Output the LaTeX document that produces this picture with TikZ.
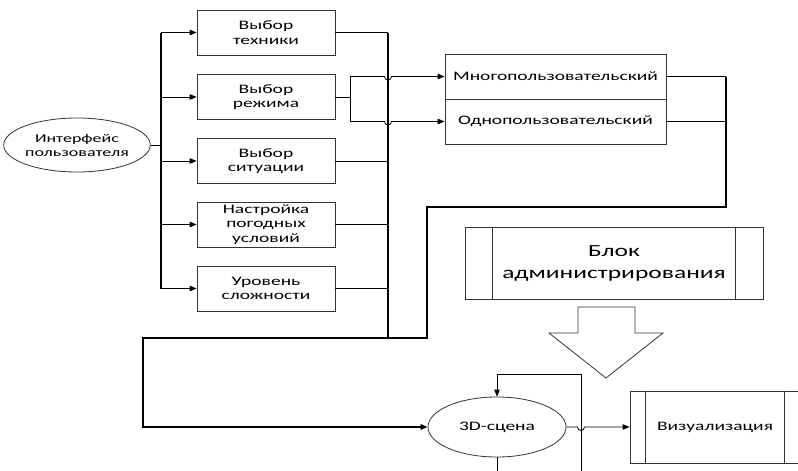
\documentclass[tikz,border=0pt]{standalone}
\usepackage{fontspec}
\setmainfont[FakeStretch=1.5]{Carlito}
\usetikzlibrary{arrows.meta,shapes.geometric,calc}
\begin{document}
\begin{tikzpicture}[x=1pt,y=-1pt,
  line width=0.8pt,
  arr/.style={-{Triangle[length=7pt,width=5.5pt]}},
  box/.style={draw=black!80,rectangle,minimum width=138pt,minimum height=45pt,inner sep=0pt,align=center,font=\fontsize{13}{14.5}\selectfont},
  oval/.style={draw=black!80,ellipse,inner sep=0pt,align=center},
  modebox/.style={draw=black!80,rectangle,minimum width=221pt,minimum height=45pt,inner sep=0pt,align=center,font=\fontsize{13}{14.5}\selectfont},
  proc/.style={draw=black!80,rectangle,inner sep=0pt,align=center},
  bus/.style={line width=1.5pt},
  thick path/.style={line width=2pt}
]
\useasboundingbox (0,0) rectangle (798,471);

% nodes
\node[oval,minimum width=139pt,minimum height=54pt,font=\fontsize{12}{14}\selectfont] (ui) at (77,145) {Интерфейс\\пользователя};
\node[box] (b1) at (266,32.5) {Выбор\\техники};
\node[box] (b2) at (266,97) {Выбор\\режима};
\node[box] (b3) at (266,161) {Выбор\\ситуации};
\node[box] (b4) at (266,224.5) {Настройка\\погодных\\условий};
\node[box] (b5) at (266,288.5) {Уровень\\сложности};

\node[modebox] (m1) at (555.5,76.5) {Многопользовательский};
\node[modebox] (m2) at (555.5,121.5) {Однопользовательский};

\node[proc,minimum width=298pt,minimum height=72pt,font=\fontsize{17}{22}\selectfont] (admin) at (614,263) {Блок\\администрирования};
\draw[black!80] ($(admin.north west)+(28,0)$) -- ($(admin.south west)+(28,0)$);
\draw[black!80] ($(admin.north east)+(-28,0)$) -- ($(admin.south east)+(-28,0)$);

% big block arrow
\draw[black!80] (578,307) -- (635,307) -- (635,333) -- (663,333) -- (606,378) -- (549,333) -- (578,333) -- cycle;

\node[oval,minimum width=138pt,minimum height=60pt,font=\fontsize{13}{14.5}\selectfont] (scene) at (497,427) {3D-сцена};

\node[proc,minimum width=170pt,minimum height=72pt] (vis) at (715,427) {};
\node[font=\fontsize{13}{14.5}\selectfont] (vistext) at (715,427) {Визуализация};
\draw[black!80] ($(vis.north west)+(16,0)$) -- ($(vis.south west)+(16,0)$);
\draw[black!80] ($(vis.north east)+(-16,0)$) -- ($(vis.south east)+(-16,0)$);

% coordinates
\coordinate (busL) at (161,0);
\coordinate (busR) at (388,0);
\coordinate (j2) at (350,0);
\coordinate (joinA) at (388,338);
\coordinate (rX) at (726,0);
\coordinate (upper) at (427,207);
\coordinate (lowL) at (143,338);
\coordinate (loopR) at (581,374);
\coordinate (botL) at (497,471);
\coordinate (botR) at (581,471);

% left bus
\draw (ui.east) -- (ui.east -| busL);
\draw[bus] (busL |- b1.west) -- (busL |- b5.west);
\foreach \b in {b1,b2,b3,b4,b5}{
  \draw[arr] (ui.east -| busL) |- (\b.west);
}

% right bus
\draw[bus] (busR |- b1.east) -- (joinA);
\foreach \b in {b1,b3,b4,b5}{
  \draw (\b.east) -- (\b.east -| busR);
}

% mode choice
\draw (b2.east) -- (b2.east -| j2);
\draw (j2 |- m1.west) -- (j2 |- m2.west);
\draw[arr] (j2 |- m1.west) -- ($(busR |- m1.west)+(-3.5,0)$) arc (180:0:3.5) -- (m1.west);
\draw[arr] (j2 |- m2.west) -- ($(busR |- m2.west)+(-3.5,0)$) arc (180:0:3.5) -- (m2.west);

% mode outputs
\draw (m1.east) -- (m1.east -| rX);
\draw (m2.east) -- (m2.east -| rX);
\draw[bus] (m1.east -| rX) -- (rX |- upper) -- (upper) -- (upper |- joinA) -- (joinA);

% thick path to scene
\draw[thick path,arr] (joinA) -- (lowL) |- (scene.west);

% scene loop
\draw (scene.south) -- (botL);
\draw[arr] (botR) -- (loopR) -| (scene.north);

% scene to visualisation
\draw[arr] (scene.east) -- ($(loopR |- scene.east)+(-3.5,0)$) arc (180:0:3.5) -- (vis.west);
\end{tikzpicture}
\end{document}
